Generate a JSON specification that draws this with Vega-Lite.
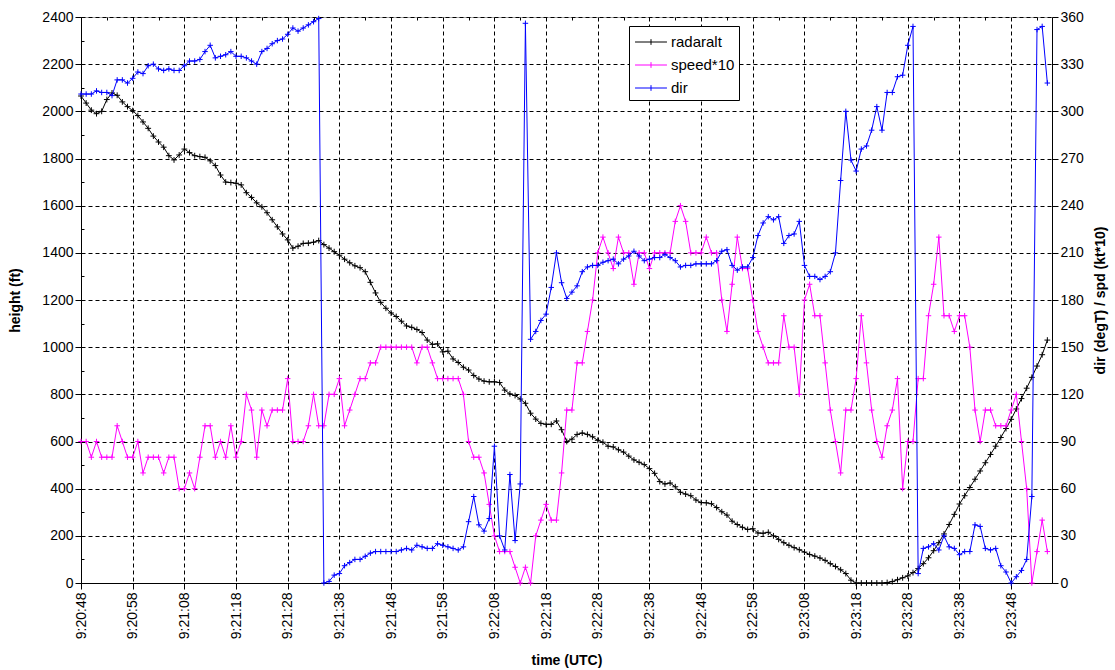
{
"$schema": "https://vega.github.io/schema/vega-lite/v6.json",
"width": 971, "height": 566,
"autosize": "none",
"padding": {"left": 81, "top": 17, "right": 63, "bottom": 87},
"background": "white",
"config": {
  "view": {"stroke": "#a6a6a6", "strokeWidth": 1},
  "font": "Liberation Sans",
  "axis": {"labelFont": "Liberation Sans", "titleFont": "Liberation Sans", "labelFontSize": 14, "labelColor": "#000", "titleColor": "#000", "titleFontSize": 14, "titleFontWeight": "bold", "domainColor": "#000", "tickColor": "#000", "gridColor": "#000", "gridDash": [4, 3], "gridOpacity": 1, "tickSize": 6, "labelPadding": 2},
  "legend": {"orient": "none", "legendX": 548, "legendY": 9, "strokeColor": "#000", "fillColor": "#fff", "padding": 4, "symbolType": "M-1.4,0H1.4M0,-0.25V0.25", "symbolSize": 520, "symbolStrokeWidth": 1, "symbolOffset": 6, "labelOffset": 8, "labelFontSize": 15, "labelFont": "Liberation Sans", "labelColor": "#000", "rowPadding": 3}
},
"data": {"format": {"parse": {"t": "date:'%H:%M:%S'"}}, "values": [
{"t":"9:20:48","alt":2065,"spd":90,"dir":311},
{"t":"9:20:49","alt":2035,"spd":90,"dir":311},
{"t":"9:20:50","alt":2005,"spd":80,"dir":311},
{"t":"9:20:51","alt":1990,"spd":90,"dir":313},
{"t":"9:20:52","alt":2000,"spd":80,"dir":312},
{"t":"9:20:53","alt":2050,"spd":80,"dir":312},
{"t":"9:20:54","alt":2078,"spd":80,"dir":310},
{"t":"9:20:55","alt":2068,"spd":100,"dir":320},
{"t":"9:20:56","alt":2040,"spd":90,"dir":320},
{"t":"9:20:57","alt":2020,"spd":80,"dir":318},
{"t":"9:20:58","alt":2003,"spd":80,"dir":321},
{"t":"9:20:59","alt":1982,"spd":90,"dir":325},
{"t":"9:21:00","alt":1955,"spd":70,"dir":324},
{"t":"9:21:01","alt":1928,"spd":80,"dir":329},
{"t":"9:21:02","alt":1895,"spd":80,"dir":330},
{"t":"9:21:03","alt":1870,"spd":80,"dir":327},
{"t":"9:21:04","alt":1848,"spd":70,"dir":326},
{"t":"9:21:05","alt":1812,"spd":80,"dir":327},
{"t":"9:21:06","alt":1794,"spd":80,"dir":326},
{"t":"9:21:07","alt":1815,"spd":60,"dir":326},
{"t":"9:21:08","alt":1840,"spd":60,"dir":329},
{"t":"9:21:09","alt":1825,"spd":70,"dir":332},
{"t":"9:21:10","alt":1812,"spd":60,"dir":332},
{"t":"9:21:11","alt":1808,"spd":80,"dir":333},
{"t":"9:21:12","alt":1805,"spd":100,"dir":338},
{"t":"9:21:13","alt":1790,"spd":100,"dir":342},
{"t":"9:21:14","alt":1770,"spd":80,"dir":334},
{"t":"9:21:15","alt":1730,"spd":90,"dir":335},
{"t":"9:21:16","alt":1700,"spd":80,"dir":336},
{"t":"9:21:17","alt":1698,"spd":100,"dir":338},
{"t":"9:21:18","alt":1695,"spd":80,"dir":335},
{"t":"9:21:19","alt":1688,"spd":90,"dir":335},
{"t":"9:21:20","alt":1655,"spd":120,"dir":334},
{"t":"9:21:21","alt":1635,"spd":110,"dir":332},
{"t":"9:21:22","alt":1612,"spd":80,"dir":330},
{"t":"9:21:23","alt":1595,"spd":110,"dir":338},
{"t":"9:21:24","alt":1570,"spd":100,"dir":340},
{"t":"9:21:25","alt":1540,"spd":110,"dir":343},
{"t":"9:21:26","alt":1510,"spd":110,"dir":345},
{"t":"9:21:27","alt":1480,"spd":110,"dir":346},
{"t":"9:21:28","alt":1455,"spd":130,"dir":349},
{"t":"9:21:29","alt":1420,"spd":90,"dir":353},
{"t":"9:21:30","alt":1428,"spd":90,"dir":351},
{"t":"9:21:31","alt":1440,"spd":90,"dir":353},
{"t":"9:21:32","alt":1441,"spd":100,"dir":355},
{"t":"9:21:33","alt":1445,"spd":120,"dir":357},
{"t":"9:21:34","alt":1452,"spd":100,"dir":359},
{"t":"9:21:35","alt":1435,"spd":100,"dir":0},
{"t":"9:21:36","alt":1420,"spd":120,"dir":1},
{"t":"9:21:37","alt":1405,"spd":120,"dir":5},
{"t":"9:21:38","alt":1390,"spd":130,"dir":6},
{"t":"9:21:39","alt":1373,"spd":100,"dir":11},
{"t":"9:21:40","alt":1358,"spd":110,"dir":13},
{"t":"9:21:41","alt":1345,"spd":120,"dir":15},
{"t":"9:21:42","alt":1337,"spd":130,"dir":15},
{"t":"9:21:43","alt":1320,"spd":130,"dir":17},
{"t":"9:21:44","alt":1275,"spd":140,"dir":19},
{"t":"9:21:45","alt":1230,"spd":140,"dir":20},
{"t":"9:21:46","alt":1190,"spd":150,"dir":20},
{"t":"9:21:47","alt":1165,"spd":150,"dir":20},
{"t":"9:21:48","alt":1145,"spd":150,"dir":20},
{"t":"9:21:49","alt":1130,"spd":150,"dir":20},
{"t":"9:21:50","alt":1110,"spd":150,"dir":21},
{"t":"9:21:51","alt":1090,"spd":150,"dir":22},
{"t":"9:21:52","alt":1084,"spd":150,"dir":21},
{"t":"9:21:53","alt":1075,"spd":140,"dir":24},
{"t":"9:21:54","alt":1062,"spd":150,"dir":23},
{"t":"9:21:55","alt":1030,"spd":150,"dir":22},
{"t":"9:21:56","alt":1012,"spd":140,"dir":22},
{"t":"9:21:57","alt":1014,"spd":130,"dir":25},
{"t":"9:21:58","alt":980,"spd":130,"dir":24},
{"t":"9:21:59","alt":983,"spd":130,"dir":23},
{"t":"9:22:00","alt":950,"spd":130,"dir":22},
{"t":"9:22:01","alt":935,"spd":130,"dir":21},
{"t":"9:22:02","alt":915,"spd":120,"dir":23},
{"t":"9:22:03","alt":903,"spd":90,"dir":39},
{"t":"9:22:04","alt":880,"spd":80,"dir":55},
{"t":"9:22:05","alt":865,"spd":80,"dir":37},
{"t":"9:22:06","alt":856,"spd":70,"dir":33},
{"t":"9:22:07","alt":853,"spd":50,"dir":41},
{"t":"9:22:08","alt":853,"spd":30,"dir":87},
{"t":"9:22:09","alt":850,"spd":20,"dir":30},
{"t":"9:22:10","alt":818,"spd":20,"dir":21},
{"t":"9:22:11","alt":802,"spd":20,"dir":69},
{"t":"9:22:12","alt":795,"spd":10,"dir":27},
{"t":"9:22:13","alt":780,"spd":0,"dir":63},
{"t":"9:22:14","alt":762,"spd":10,"dir":356},
{"t":"9:22:15","alt":720,"spd":0,"dir":155},
{"t":"9:22:16","alt":695,"spd":30,"dir":160},
{"t":"9:22:17","alt":677,"spd":40,"dir":167},
{"t":"9:22:18","alt":673,"spd":50,"dir":171},
{"t":"9:22:19","alt":673,"spd":40,"dir":188},
{"t":"9:22:20","alt":687,"spd":40,"dir":210},
{"t":"9:22:21","alt":650,"spd":70,"dir":191},
{"t":"9:22:22","alt":600,"spd":110,"dir":181},
{"t":"9:22:23","alt":610,"spd":110,"dir":185},
{"t":"9:22:24","alt":630,"spd":140,"dir":189},
{"t":"9:22:25","alt":636,"spd":140,"dir":198},
{"t":"9:22:26","alt":630,"spd":160,"dir":201},
{"t":"9:22:27","alt":620,"spd":180,"dir":202},
{"t":"9:22:28","alt":605,"spd":210,"dir":202},
{"t":"9:22:29","alt":597,"spd":220,"dir":204},
{"t":"9:22:30","alt":580,"spd":210,"dir":205},
{"t":"9:22:31","alt":577,"spd":200,"dir":206},
{"t":"9:22:32","alt":565,"spd":220,"dir":203},
{"t":"9:22:33","alt":555,"spd":210,"dir":206},
{"t":"9:22:34","alt":538,"spd":210,"dir":208},
{"t":"9:22:35","alt":522,"spd":190,"dir":211},
{"t":"9:22:36","alt":512,"spd":210,"dir":208},
{"t":"9:22:37","alt":502,"spd":210,"dir":205},
{"t":"9:22:38","alt":485,"spd":200,"dir":206},
{"t":"9:22:39","alt":465,"spd":210,"dir":207},
{"t":"9:22:40","alt":430,"spd":210,"dir":207},
{"t":"9:22:41","alt":420,"spd":210,"dir":209},
{"t":"9:22:42","alt":424,"spd":210,"dir":207},
{"t":"9:22:43","alt":408,"spd":230,"dir":205},
{"t":"9:22:44","alt":385,"spd":240,"dir":201},
{"t":"9:22:45","alt":377,"spd":230,"dir":202},
{"t":"9:22:46","alt":370,"spd":210,"dir":202},
{"t":"9:22:47","alt":352,"spd":210,"dir":203},
{"t":"9:22:48","alt":341,"spd":210,"dir":203},
{"t":"9:22:49","alt":340,"spd":220,"dir":203},
{"t":"9:22:50","alt":336,"spd":210,"dir":203},
{"t":"9:22:51","alt":320,"spd":210,"dir":205},
{"t":"9:22:52","alt":302,"spd":180,"dir":211},
{"t":"9:22:53","alt":288,"spd":160,"dir":212},
{"t":"9:22:54","alt":262,"spd":190,"dir":202},
{"t":"9:22:55","alt":248,"spd":220,"dir":199},
{"t":"9:22:56","alt":236,"spd":200,"dir":201},
{"t":"9:22:57","alt":227,"spd":200,"dir":201},
{"t":"9:22:58","alt":230,"spd":180,"dir":207},
{"t":"9:22:59","alt":212,"spd":160,"dir":221},
{"t":"9:23:00","alt":211,"spd":150,"dir":229},
{"t":"9:23:01","alt":215,"spd":140,"dir":233},
{"t":"9:23:02","alt":200,"spd":140,"dir":231},
{"t":"9:23:03","alt":185,"spd":140,"dir":233},
{"t":"9:23:04","alt":171,"spd":170,"dir":216},
{"t":"9:23:05","alt":160,"spd":150,"dir":221},
{"t":"9:23:06","alt":150,"spd":150,"dir":222},
{"t":"9:23:07","alt":141,"spd":120,"dir":230},
{"t":"9:23:08","alt":131,"spd":180,"dir":202},
{"t":"9:23:09","alt":121,"spd":190,"dir":195},
{"t":"9:23:10","alt":114,"spd":170,"dir":195},
{"t":"9:23:11","alt":106,"spd":170,"dir":193},
{"t":"9:23:12","alt":96,"spd":140,"dir":195},
{"t":"9:23:13","alt":82,"spd":110,"dir":198},
{"t":"9:23:14","alt":70,"spd":90,"dir":210},
{"t":"9:23:15","alt":56,"spd":70,"dir":256},
{"t":"9:23:16","alt":40,"spd":110,"dir":300},
{"t":"9:23:17","alt":12,"spd":110,"dir":269},
{"t":"9:23:18","alt":0,"spd":130,"dir":262},
{"t":"9:23:19","alt":0,"spd":170,"dir":276},
{"t":"9:23:20","alt":0,"spd":140,"dir":278},
{"t":"9:23:21","alt":0,"spd":110,"dir":288},
{"t":"9:23:22","alt":0,"spd":90,"dir":303},
{"t":"9:23:23","alt":0,"spd":80,"dir":288},
{"t":"9:23:24","alt":2,"spd":100,"dir":312},
{"t":"9:23:25","alt":6,"spd":110,"dir":312},
{"t":"9:23:26","alt":14,"spd":130,"dir":322},
{"t":"9:23:27","alt":22,"spd":60,"dir":323},
{"t":"9:23:28","alt":30,"spd":90,"dir":342},
{"t":"9:23:29","alt":44,"spd":90,"dir":354},
{"t":"9:23:30","alt":61,"spd":130,"dir":6},
{"t":"9:23:31","alt":82,"spd":130,"dir":22},
{"t":"9:23:32","alt":107,"spd":170,"dir":23},
{"t":"9:23:33","alt":137,"spd":190,"dir":25},
{"t":"9:23:34","alt":171,"spd":220,"dir":21},
{"t":"9:23:35","alt":208,"spd":170,"dir":30},
{"t":"9:23:36","alt":248,"spd":170,"dir":23},
{"t":"9:23:37","alt":291,"spd":160,"dir":22},
{"t":"9:23:38","alt":335,"spd":170,"dir":18},
{"t":"9:23:39","alt":370,"spd":170,"dir":20},
{"t":"9:23:40","alt":405,"spd":150,"dir":20},
{"t":"9:23:41","alt":440,"spd":110,"dir":37},
{"t":"9:23:42","alt":475,"spd":90,"dir":36},
{"t":"9:23:43","alt":510,"spd":110,"dir":22},
{"t":"9:23:44","alt":545,"spd":110,"dir":21},
{"t":"9:23:45","alt":580,"spd":100,"dir":22},
{"t":"9:23:46","alt":617,"spd":100,"dir":11},
{"t":"9:23:47","alt":655,"spd":100,"dir":7},
{"t":"9:23:48","alt":694,"spd":110,"dir":0},
{"t":"9:23:49","alt":738,"spd":120,"dir":4},
{"t":"9:23:50","alt":782,"spd":90,"dir":8},
{"t":"9:23:51","alt":826,"spd":60,"dir":15},
{"t":"9:23:52","alt":872,"spd":0,"dir":55},
{"t":"9:23:53","alt":920,"spd":20,"dir":352},
{"t":"9:23:54","alt":968,"spd":40,"dir":354},
{"t":"9:23:55","alt":1030,"spd":20,"dir":318}
]},
"layer": [
  {
    "mark": {"type": "line", "strokeWidth": 1, "point": {"shape": "M-1,0H1M0,-1V1", "filled": false, "size": 34, "strokeWidth": 1}},
    "encoding": {
      "x": {"field": "t", "type": "temporal",
        "scale": {"nice": false, "domain": [{"year":1900,"month":1,"date":1,"hours":9,"minutes":20,"seconds":48},{"year":1900,"month":1,"date":1,"hours":9,"minutes":23,"seconds":55,"milliseconds":900}]},
        "axis": {"title": "time (UTC)", "format": "%-H:%M:%S", "labelAngle": 270, "grid": true, "labelPadding": 3, "titleY": 81, "titleBaseline": "alphabetic",
          "values": [
            {"year":1900,"month":1,"date":1,"hours":9,"minutes":20,"seconds":48},
            {"year":1900,"month":1,"date":1,"hours":9,"minutes":20,"seconds":58},
            {"year":1900,"month":1,"date":1,"hours":9,"minutes":21,"seconds":8},
            {"year":1900,"month":1,"date":1,"hours":9,"minutes":21,"seconds":18},
            {"year":1900,"month":1,"date":1,"hours":9,"minutes":21,"seconds":28},
            {"year":1900,"month":1,"date":1,"hours":9,"minutes":21,"seconds":38},
            {"year":1900,"month":1,"date":1,"hours":9,"minutes":21,"seconds":48},
            {"year":1900,"month":1,"date":1,"hours":9,"minutes":21,"seconds":58},
            {"year":1900,"month":1,"date":1,"hours":9,"minutes":22,"seconds":8},
            {"year":1900,"month":1,"date":1,"hours":9,"minutes":22,"seconds":18},
            {"year":1900,"month":1,"date":1,"hours":9,"minutes":22,"seconds":28},
            {"year":1900,"month":1,"date":1,"hours":9,"minutes":22,"seconds":38},
            {"year":1900,"month":1,"date":1,"hours":9,"minutes":22,"seconds":48},
            {"year":1900,"month":1,"date":1,"hours":9,"minutes":22,"seconds":58},
            {"year":1900,"month":1,"date":1,"hours":9,"minutes":23,"seconds":8},
            {"year":1900,"month":1,"date":1,"hours":9,"minutes":23,"seconds":18},
            {"year":1900,"month":1,"date":1,"hours":9,"minutes":23,"seconds":28},
            {"year":1900,"month":1,"date":1,"hours":9,"minutes":23,"seconds":38},
            {"year":1900,"month":1,"date":1,"hours":9,"minutes":23,"seconds":48}
          ]}},
      "y": {"field": "alt", "type": "quantitative", "scale": {"domain": [0, 2400], "nice": false},
        "axis": {"title": "height (ft)", "grid": true, "format": "d", "values": [0,200,400,600,800,1000,1200,1400,1600,1800,2000,2200,2400], "titleX": -66, "titleY": 283, "titleBaseline": "middle", "titleAngle": 270}},
      "color": {"datum": "radaralt", "type": "nominal", "scale": {"domain": ["radaralt", "speed*10", "dir"], "range": ["#000000", "#ff00ff", "#0000ff"]}, "legend": {"title": null}}
    }
  },
  {
    "encoding": {
      "x": {"field": "t", "type": "temporal", "axis": null,
        "scale": {"nice": false, "domain": [{"year":1900,"month":1,"date":1,"hours":9,"minutes":20,"seconds":48},{"year":1900,"month":1,"date":1,"hours":9,"minutes":23,"seconds":55,"milliseconds":900}]}}
    },
    "layer": [
      {
        "mark": {"type": "line", "strokeWidth": 1, "point": {"shape": "M-1,0H1M0,-1V1", "filled": false, "size": 30, "strokeWidth": 1}},
        "encoding": {
          "y": {"field": "spd", "type": "quantitative", "scale": {"domain": [0, 360], "nice": false},
            "axis": {"orient": "right", "title": "dir (degT) / spd (kt*10)", "grid": false, "values": [0,30,60,90,120,150,180,210,240,270,300,330,360], "titleX": 48, "titleY": 283, "titleBaseline": "middle", "titleAngle": 270}},
          "color": {"datum": "speed*10", "type": "nominal", "scale": {"domain": ["radaralt", "speed*10", "dir"], "range": ["#000000", "#ff00ff", "#0000ff"]}, "legend": {"title": null}}
        }
      },
      {
        "mark": {"type": "line", "strokeWidth": 1, "point": {"shape": "M-1,0H1M0,-1V1", "filled": false, "size": 30, "strokeWidth": 1}},
        "encoding": {
          "y": {"field": "dir", "type": "quantitative", "scale": {"domain": [0, 360], "nice": false},
            "axis": {"orient": "right", "title": "dir (degT) / spd (kt*10)", "grid": false, "values": [0,30,60,90,120,150,180,210,240,270,300,330,360], "titleX": 48, "titleY": 283, "titleBaseline": "middle", "titleAngle": 270}},
          "color": {"datum": "dir", "type": "nominal", "scale": {"domain": ["radaralt", "speed*10", "dir"], "range": ["#000000", "#ff00ff", "#0000ff"]}, "legend": {"title": null}}
        }
      }
    ]
  },
  {
    "mark": {"type": "point", "opacity": 0},
    "encoding": {
      "x": {"field": "t", "type": "temporal",
        "scale": {"nice": false, "domain": [{"year":1900,"month":1,"date":1,"hours":9,"minutes":20,"seconds":48},{"year":1900,"month":1,"date":1,"hours":9,"minutes":23,"seconds":55,"milliseconds":900}]},
        "axis": {"title": null, "labels": false, "grid": false, "domain": false, "tickSize": -3, "offset": 0,
          "values": [
            {"year":1900,"month":1,"date":1,"hours":9,"minutes":20,"seconds":53},
            {"year":1900,"month":1,"date":1,"hours":9,"minutes":21,"seconds":3},
            {"year":1900,"month":1,"date":1,"hours":9,"minutes":21,"seconds":13},
            {"year":1900,"month":1,"date":1,"hours":9,"minutes":21,"seconds":23},
            {"year":1900,"month":1,"date":1,"hours":9,"minutes":21,"seconds":33},
            {"year":1900,"month":1,"date":1,"hours":9,"minutes":21,"seconds":43},
            {"year":1900,"month":1,"date":1,"hours":9,"minutes":21,"seconds":53},
            {"year":1900,"month":1,"date":1,"hours":9,"minutes":22,"seconds":3},
            {"year":1900,"month":1,"date":1,"hours":9,"minutes":22,"seconds":13},
            {"year":1900,"month":1,"date":1,"hours":9,"minutes":22,"seconds":23},
            {"year":1900,"month":1,"date":1,"hours":9,"minutes":22,"seconds":33},
            {"year":1900,"month":1,"date":1,"hours":9,"minutes":22,"seconds":43},
            {"year":1900,"month":1,"date":1,"hours":9,"minutes":22,"seconds":53},
            {"year":1900,"month":1,"date":1,"hours":9,"minutes":23,"seconds":3},
            {"year":1900,"month":1,"date":1,"hours":9,"minutes":23,"seconds":13},
            {"year":1900,"month":1,"date":1,"hours":9,"minutes":23,"seconds":23},
            {"year":1900,"month":1,"date":1,"hours":9,"minutes":23,"seconds":33},
            {"year":1900,"month":1,"date":1,"hours":9,"minutes":23,"seconds":43},
            {"year":1900,"month":1,"date":1,"hours":9,"minutes":23,"seconds":53}
          ]}},
      "y": {"field": "alt", "type": "quantitative", "scale": {"domain": [0, 2400], "nice": false},
        "axis": {"orient": "left", "title": null, "labels": false, "grid": false, "domain": false, "tickSize": -3, "offset": 0, "values": [100,300,500,700,900,1100,1300,1500,1700,1900,2100,2300]}}
    }
  }
],
"resolve": {"scale": {"x": "independent", "y": "independent"}}
}
